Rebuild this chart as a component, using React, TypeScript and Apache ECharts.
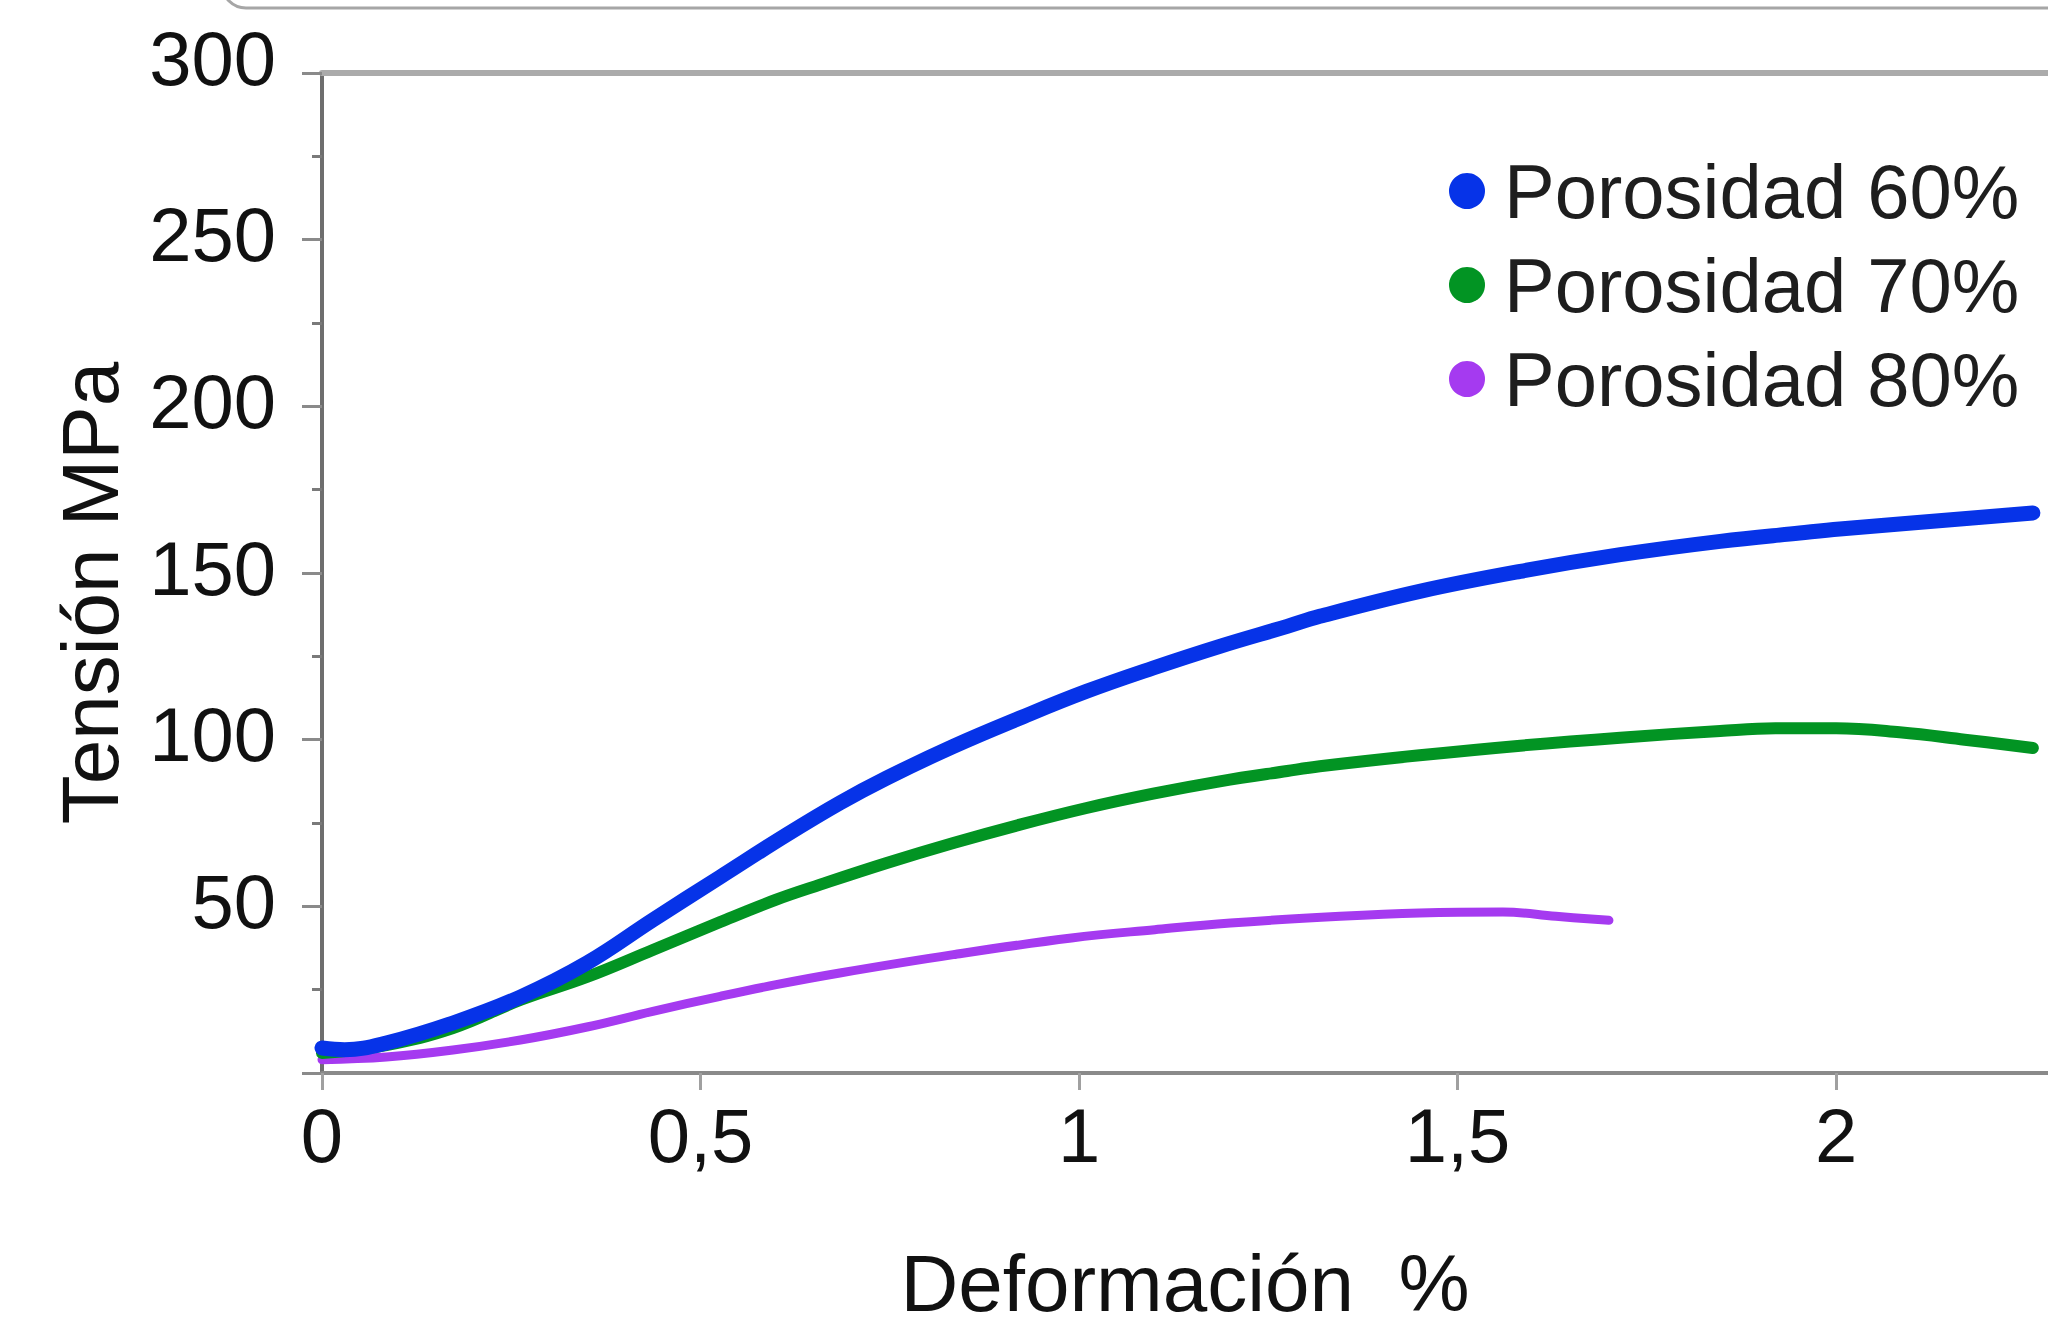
import React, { useEffect, useRef } from "react";
import * as echarts from "echarts";

const seriesNames = ["Porosidad 60%", "Porosidad 70%", "Porosidad 80%"];
const seriesColors = ["#0633e8", "#029423", "#a53af0"];

const strain60 = [0, 0.03, 0.085, 0.173, 0.262, 0.35, 0.437, 0.526, 0.614, 0.684, 0.746, 0.834, 0.922, 1.01, 1.098, 1.186, 1.275, 1.318, 1.45, 1.583, 1.715, 1.847, 1.952, 2.005, 2.26];
const stress60 = [7.5, 7, 9, 15, 22.8, 33, 45.9, 58.8, 71.5, 81, 88.5, 98, 106.5, 114.5, 121.5, 128, 134, 137, 144.5, 150.5, 155.5, 159.5, 162, 163.2, 168];

const strain70 = [0, 0.085, 0.173, 0.262, 0.35, 0.437, 0.526, 0.6, 0.658, 0.746, 0.834, 0.922, 1.01, 1.098, 1.186, 1.275, 1.318, 1.45, 1.583, 1.715, 1.847, 1.92, 2.0, 2.084, 2.17, 2.26];
const stress70 = [6, 8.4, 13.5, 21.9, 28.8, 36.9, 45.3, 52, 56.5, 63, 69, 74.5, 79.5, 83.8, 87.5, 90.6, 92, 95.3, 98.2, 100.6, 102.6, 103.4, 103.4, 102.2, 100, 97.5];

const strain80 = [0, 0.085, 0.173, 0.262, 0.35, 0.437, 0.526, 0.6, 0.684, 0.834, 0.99, 1.1, 1.2, 1.345, 1.45, 1.56, 1.63, 1.7];
const stress80 = [4, 4.8, 6.9, 9.9, 13.8, 18.5, 23, 26.5, 30, 35.5, 40.5, 43, 45, 47, 48, 48.3, 47, 45.8];

const xTicks = [0, 0.5, 1, 1.5, 2];
const xMax = 2.28;
const yMax = 300;
const yInterval = 50;

const xTitle = "Deformación  %";
const yTitle = "Tensión MPa";

const FONT = "'Liberation Sans', Arial, sans-serif";

function pairs(xs: number[], ys: number[]) {
  return xs.map((x, i) => [x, ys[i]]);
}

export default function App() {
  const ref = useRef<HTMLDivElement>(null);

  useEffect(() => {
    if (!ref.current) return;
    const chart = echarts.init(ref.current, undefined, { renderer: "svg" });

    const dataSets = [
      pairs(strain60, stress60),
      pairs(strain70, stress70),
      pairs(strain80, stress80),
    ];
    const widths = [15, 12, 9];
    const order = [2, 1, 0];

    chart.setOption({
      animation: false,
      backgroundColor: "#ffffff",
      grid: {
        left: 322,
        right: 0,
        top: 73,
        bottom: 258,
        containLabel: false,
        outerBoundsMode: "none",
      },
      legend: {
        orient: "vertical",
        left: 1444,
        top: 148,
        icon: "circle",
        itemWidth: 36,
        itemHeight: 36,
        itemGap: 18,
        data: seriesNames,
        textStyle: {
          fontSize: 76,
          color: "#1e1e1e",
          fontFamily: FONT,
          lineHeight: 74,
          padding: [0, 0, 0, 14],
        },
      },
      graphic: [
        {
          type: "rect",
          silent: true,
          shape: { x: 222, y: -80, width: 1900, height: 88, r: 24 },
          style: { fill: "none", stroke: "#a6a6a6", lineWidth: 3 },
        },
      ],
      xAxis: [
        {
          type: "value",
          min: 0,
          max: xMax,
          interval: 0.5,
          position: "bottom",
          axisLine: { show: true, onZero: false, lineStyle: { color: "#8a8a8a", width: 4 } },
          axisTick: {
            show: true,
            inside: false,
            length: 17,
            customValues: xTicks,
            lineStyle: { color: "#a0a0a0", width: 3 },
          },
          axisLabel: {
            customValues: xTicks,
            margin: 24,
            fontSize: 76,
            color: "#111111",
            fontFamily: FONT,
            formatter: (v: number) => String(v).replace(".", ","),
          },
          splitLine: { show: false },
          name: xTitle,
          nameLocation: "middle",
          nameGap: 178,
          nameTextStyle: { fontSize: 80, lineHeight: 64, color: "#111111", fontFamily: FONT },
        },
        {
          type: "value",
          min: 0,
          max: xMax,
          position: "top",
          axisLine: { show: true, onZero: false, lineStyle: { color: "#ababab", width: 6 } },
          axisTick: { show: false },
          axisLabel: { show: false },
          splitLine: { show: false },
        },
      ],
      yAxis: {
        type: "value",
        min: 0,
        max: yMax,
        interval: yInterval,
        axisLine: { show: true, onZero: false, lineStyle: { color: "#6e6e6e", width: 4 } },
        axisTick: { show: true, length: 20, lineStyle: { color: "#8a8a8a", width: 3 } },
        minorTick: { show: true, splitNumber: 2, length: 10, lineStyle: { color: "#7a7a7a", width: 3 } },
        axisLabel: {
          showMinLabel: false,
          margin: 46,
          fontSize: 76,
          color: "#111111",
          fontFamily: FONT,
          padding: [0, 0, 10, 0],
          formatter: (v: number) => (v === yMax ? `{top|${v}}` : `${v}`),
          rich: {
            top: {
              fontSize: 76,
              color: "#111111",
              fontFamily: FONT,
              padding: [0, 0, 20, 0],
            },
          },
        },
        splitLine: { show: false },
        name: yTitle,
        nameLocation: "middle",
        nameRotate: 90,
        nameGap: 192,
        nameTextStyle: {
          fontSize: 80,
          color: "#111111",
          fontFamily: FONT,
          padding: [0, 40, 0, 0],
        },
      },
      series: order.map((i) => ({
        type: "line",
        name: seriesNames[i],
        data: dataSets[i],
        color: seriesColors[i],
        showSymbol: false,
        symbol: "none",
        smooth: 0.4,
        lineStyle: { width: widths[i], color: seriesColors[i], cap: "round", join: "round" },
        z: 3 - i,
      })),
    });
    return () => chart.dispose();
  }, []);

  return (
    <div
      ref={ref}
      style={{ position: "fixed", left: 0, top: 0, width: 2048, height: 1331, background: "#fff" }}
    />
  );
}
